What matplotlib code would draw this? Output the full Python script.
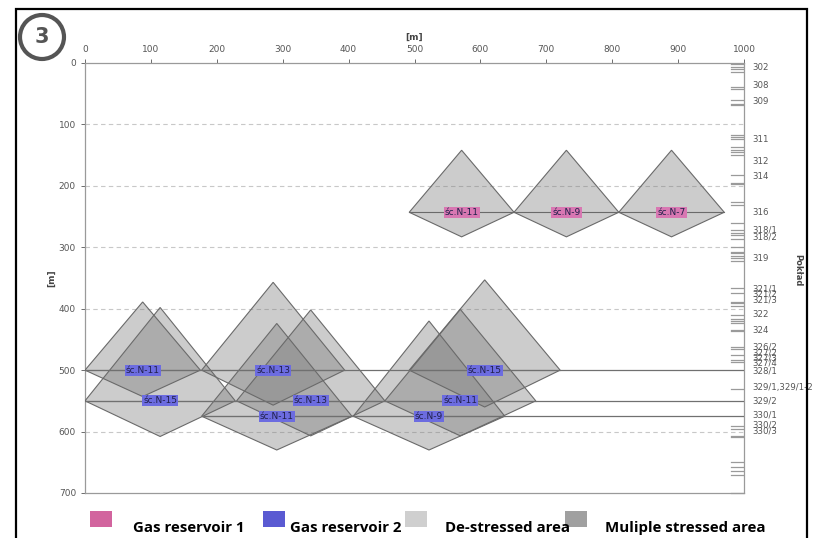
import matplotlib.pyplot as plt
from matplotlib.patches import Polygon, Rectangle, Ellipse

# longwall panels (śc. = ściana): seam depth, horizontal extent and stress zone reach
labels = ['śc.N-11', 'śc.N-9', 'śc.N-7', 'śc.N-11', 'śc.N-15', 'śc.N-13',
          'śc.N-11', 'śc.N-13', 'śc.N-15', 'śc.N-11', 'śc.N-9']
reservoir = [1, 1, 1, 2, 2, 2, 2, 2, 2, 2, 2]
level = [243, 243, 243, 500, 550, 500, 575, 550, 500, 550, 575]
x_left = [492, 651, 810, 0, 0, 177, 177, 230, 492, 455, 407]
x_right = [651, 810, 970, 175, 228, 394, 405, 455, 721, 684, 637]
zone_top = [142, 142, 142, 389, 398, 357, 424, 402, 353, 401, 420]
zone_bottom = [283, 283, 283, 543, 608, 557, 630, 607, 560, 607, 630]

# seam lines across the section
seam_depth = [500, 550, 575]
seam_start = [0, 0, 177]

# seam log on the right (Pokład)
seam_names = ['302', '308', '309', '311', '312', '314', '316', '318/1', '318/2', '319',
              '321/1', '321/2', '321/3', '322', '324', '326/2', '327/2', '327/3', '327/4',
              '328/1', '329/1,329/1-2', '329/2', '330/1', '330/2', '330/3']
seam_name_depth = [8, 37, 62, 124, 160, 184, 244, 272, 283, 319,
                   368, 376, 386, 409, 436, 462, 472, 480, 489,
                   502, 528, 550, 573, 590, 599]
log_marks = [2, 6, 10, 15, 39, 43, 61, 66, 68, 117, 121, 124, 137, 141, 145, 150,
             182, 195, 197, 226, 231, 260, 272, 276, 280, 287, 299, 307, 310, 314,
             318, 322, 366, 375, 389, 391, 396, 410, 416, 420, 423, 435, 437, 462,
             466, 476, 484, 487, 531, 591, 595, 607, 609, 649, 657, 664, 671, 700]

legend_names = ['Gas reservoir 1', 'Gas reservoir 2', 'De-stressed area', 'Muliple stressed area']
legend_colors = ['#d2649e', '#5a5ad2', '#cfcfcf', '#a0a0a0']

fig = plt.figure(figsize=(8.21, 5.38), dpi=100)
ax = fig.add_axes([85/821, 45/538, 659/821, 430/538])
ax.set_xlim(0, 1000)
ax.set_ylim(700, 0)

for y in [100, 200, 300, 400, 600]:
    ax.plot([0, 1000], [y, y], color='#c8c8c8', lw=0.8, ls=(0, (4, 3)), zorder=0)

for i in range(len(labels)):
    xc = (x_left[i] + x_right[i]) / 2
    pts = [(x_left[i], level[i]), (xc, zone_top[i]), (x_right[i], level[i]), (xc, zone_bottom[i])]
    ax.add_patch(Polygon(pts, closed=True, facecolor='#7a7a7a', alpha=0.38,
                         edgecolor='none', zorder=2))
    ax.add_patch(Polygon(pts, closed=True, facecolor='none', edgecolor='#6a6a6a',
                         lw=0.8, zorder=3))
    ax.plot([x_left[i], x_right[i]], [level[i], level[i]], color='#6a6a6a', lw=0.8, zorder=3)

for d, s in zip(seam_depth, seam_start):
    ax.plot([s, 1000], [d, d], color='#707070', lw=0.9, zorder=3)

for i in range(len(labels)):
    xc = (x_left[i] + x_right[i]) / 2
    bg = '#d877b2' if reservoir[i] == 1 else '#6c6ce0'
    ax.text(xc, level[i], labels[i], ha='center', va='center', fontsize=6.5,
            color='#20204a', zorder=5,
            bbox=dict(boxstyle='square,pad=0.12', facecolor=bg, edgecolor='none'))

for d in log_marks:
    ax.plot([981, 999], [d, d], color='#9a9a9a', lw=0.9, clip_on=False, zorder=1)
for n, d in zip(seam_names, seam_name_depth):
    ax.text(1012, d, n, ha='left', va='center', fontsize=6.2, color='#555555', clip_on=False)
ax.text(1082, 337, 'Pokład', rotation=-90, ha='center', va='center', fontsize=6,
        color='#444444', fontweight='bold')

ax.xaxis.tick_top()
ax.xaxis.set_label_position('top')
ax.set_xticks(range(0, 1001, 100))
ax.set_yticks(range(0, 701, 100))
ax.tick_params(labelsize=6.5, colors='#555555', length=3, width=0.6)
ax.set_xlabel('[m]', fontsize=6.5, color='#444444', fontweight='bold', labelpad=4)
ax.set_ylabel('[m]', fontsize=6.5, color='#444444', fontweight='bold', labelpad=2)
for sp in ax.spines.values():
    sp.set_color('#9a9a9a')
    sp.set_linewidth(0.9)

# outer frame and panel number
fig.patches.append(Rectangle((16/821, -0.02), 791/821, 1.0 - 9/538 + 0.02, transform=fig.transFigure,
                             fill=False, edgecolor='black', lw=1.6))
fig.patches.append(Ellipse((42/821, 1 - 37/538), 44/821, 44/538, transform=fig.transFigure,
                           fill=False, edgecolor='#555555', lw=3))
fig.text(42/821, 1 - 37/538, '3', ha='center', va='center', fontsize=15,
         fontweight='bold', color='#555555')

# legend row
leg_x = [90, 263, 405, 565]
txt_x = [133, 290, 445, 605]
for name, c, lx, tx in zip(legend_names, legend_colors, leg_x, txt_x):
    fig.patches.append(Rectangle((lx/821, 1 - 527/538), 22/821, 16/538,
                                 transform=fig.transFigure, facecolor=c, edgecolor='none'))
    fig.text(tx/821, 1 - 532/538, name, ha='left', va='baseline', fontsize=10.8,
             fontweight='bold', family=['Open Sans', 'DejaVu Sans'], color='black')

fig.savefig('out.png', dpi=100)
